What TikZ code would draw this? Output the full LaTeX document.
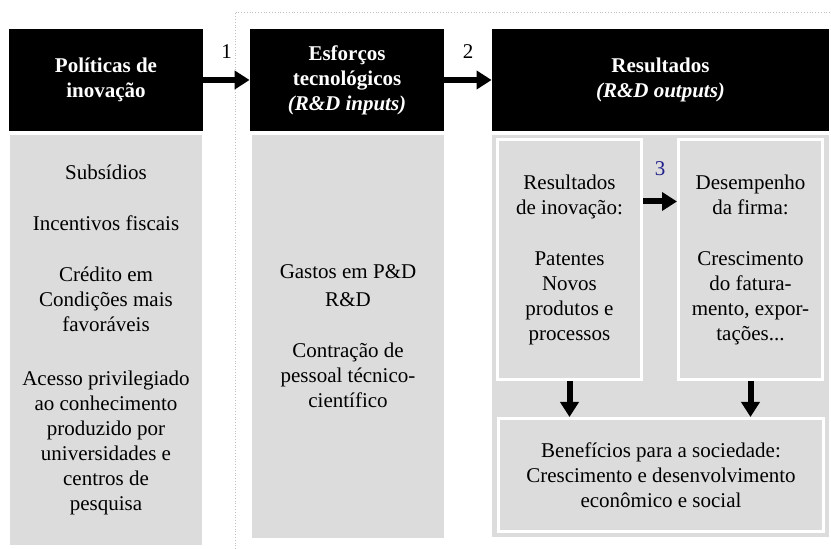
\documentclass[tikz,border=0pt]{standalone}
\usepackage{fontspec}
\setmainfont{Liberation Serif}
\usetikzlibrary{arrows.meta}
\definecolor{boxgray}{RGB}{220,220,220}
\definecolor{numblue}{RGB}{30,30,140}

\begin{document}
\begin{tikzpicture}[x=0.5pt, y=-0.5pt,
  every node/.style={font=\fontsize{10.5pt}{12.5pt}\selectfont, align=center, inner sep=0pt},
  head/.style={fill=black, text=white, font=\fontsize{10.5pt}{12.5pt}\selectfont\bfseries, minimum height=51pt},
  body/.style={fill=boxgray},
  inner/.style={fill=boxgray, draw=white, line width=1.5pt},
  bigarrow/.style={line width=3pt, -{Triangle[length=7.5pt,width=9pt]}}]
\useasboundingbox (0,0) rectangle (831,549);
\coordinate (Pol) at (106,80);
\coordinate (Esf) at (347,80);
\coordinate (Res) at (660.5,80);
\coordinate (PolB) at (106,340);
\coordinate (EsfB) at (348,336.5);
\coordinate (ResB) at (660.5,336);
\coordinate (A) at (569.5,259.5);
\coordinate (B) at (750.5,259.5);
\coordinate (C) at (661,475);

\draw[densely dotted, gray!50, line width=0.4pt] (235,549) -- (235,12) -- (830,12);

\node[head, minimum width=97pt] (pol) at (Pol) {Políticas de\\inovação};
\node[head, minimum width=97pt] (esf) at (Esf) {Esforços\\tecnológicos\\\textit{(R\&D inputs)}};
\node[head, minimum width=168.5pt] (res) at (Res) {Resultados\\\textit{(R\&D outputs)}};

\node[body, minimum width=96pt, minimum height=205pt] (polb) at (PolB) {Subsídios\\[13pt]Incentivos fiscais\\[13pt]Crédito em\\Condições mais\\favoráveis\\[14.5pt]Acesso privilegiado\\ao conhecimento\\produzido por\\universidades e\\centros de\\pesquisa};
\node[body, minimum width=96pt, minimum height=201.5pt] (esfb) at (EsfB) {Gastos em P\&D\\[1.5pt]R\&D\\[13pt]Contração de\\pessoal técnico-\\científico};
\node[body, minimum width=168.5pt, minimum height=201pt] (resb) at (ResB) {};

\node[inner, minimum width=72pt, minimum height=120pt] (ra) at (A) {Resultados\\de inovação:\\[13pt]Patentes\\Novos\\produtos e\\processos};
\node[inner, minimum width=72pt, minimum height=120pt] (rb) at (B) {Desempenho\\da firma:\\[13pt]Crescimento\\do fatura-\\mento, expor-\\tações...};
\node[inner, minimum width=162.5pt, minimum height=56.5pt] (ben) at (C) {Benefícios para a sociedade:\\Crescimento e desenvolvimento\\econômico e social};

\draw[bigarrow] (pol.east) -- (esf.west) node[midway, yshift=14pt] {1};
\draw[bigarrow] (esf.east) -- (res.west) node[midway, yshift=14pt] {2};
\draw[bigarrow] ([yshift=29pt]ra.east) -- ([yshift=29pt]rb.west) node[midway, yshift=16.5pt, text=numblue] {3};
\draw[bigarrow] (ra.south) -- (ra.south |- ben.north);
\draw[bigarrow] (rb.south) -- (rb.south |- ben.north);
\end{tikzpicture}
\end{document}
